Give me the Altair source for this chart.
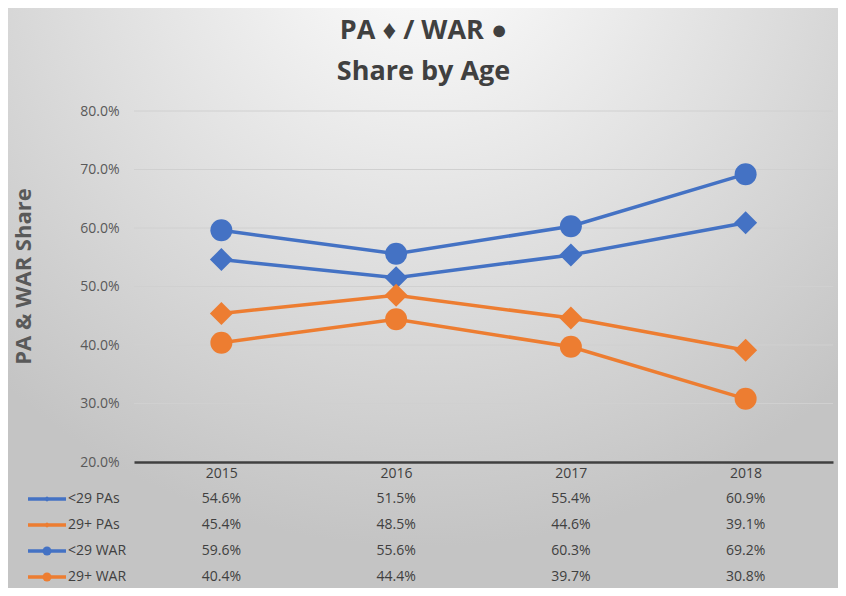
import altair as alt
import pandas as pd

# ---------------- data ----------------
years = ["2015", "2016", "2017", "2018"]
series_names = ["<29 PAs", "29+ PAs", "<29 WAR", "29+ WAR"]
series_group = ["<29", "29+", "<29", "29+"]
series_metric = ["PA", "PA", "WAR", "WAR"]
pa_under29 = [0.546, 0.515, 0.554, 0.609]
pa_29plus = [0.454, 0.485, 0.446, 0.391]
war_under29 = [0.596, 0.556, 0.603, 0.692]
war_29plus = [0.404, 0.444, 0.397, 0.308]
y_ticks = [0.2, 0.3, 0.4, 0.5, 0.6, 0.7, 0.8]
title_lines = ["PA \u2666 / WAR \u25cf", "Share by Age"]
y_title = "PA & WAR Share"

rows = []
for name, grp, met, vals in zip(series_names, series_group, series_metric,
                                [pa_under29, pa_29plus, war_under29, war_29plus]):
    for yr, v in zip(years, vals):
        rows.append(dict(Series=name, Group=grp, Metric=met, Year=yr, Value=v))
df = pd.DataFrame(rows)
keys = pd.DataFrame(dict(Series=series_names, Group=series_group, Metric=series_metric))
grid_df = pd.DataFrame({"Value": y_ticks[1:]})

# ---------------- style ----------------
FONT = "Open Sans"
W, H = 699, 351
PAD = {"left": 126, "top": 103, "right": 5, "bottom": 126}
BLUE, ORANGE = "#4472C4", "#ED7D31"

color_enc = alt.Color("Group:N", scale=alt.Scale(domain=["<29", "29+"], range=[BLUE, ORANGE]), legend=None)

x_enc = alt.X(
    "Year:O",
    scale=alt.Scale(type="point", padding=0.5, domain=years),
    axis=alt.Axis(title=None, labelAngle=0, ticks=False, grid=False,
                  domainColor="#404040", domainWidth=2.5,
                  labelColor="#404040", labelFontSize=14, labelFont=FONT,
                  labelPadding=4, zindex=1),
)
y_axis = alt.Axis(
    title=y_title, values=y_ticks, format=".1%", grid=False, domain=False, ticks=False,
    labelColor="#595959", labelFontSize=14, labelFont=FONT, labelPadding=15,
    titleFontSize=22, titleFontWeight="bold", titleColor="#595959", titleFont=FONT,
    titleX=-99, titleY=165, zindex=1,
)
y_enc = alt.Y("Value:Q", scale=alt.Scale(domain=[0.2, 0.8], nice=False, zero=False), axis=y_axis)

bg_fill = alt.RadialGradient(
    gradient="radial", x1=0.5, y1=0.05, r1=0, x2=0.5, y2=0.05, r2=0.75,
    stops=[alt.GradientStop(offset=0, color="#ffffff"),
           alt.GradientStop(offset=1, color="#c4c4c4")],
)
bg = alt.Chart(pd.DataFrame({"a": [0]})).mark_rect(fill=bg_fill).encode(
    x=alt.value(-PAD["left"]), x2=alt.value(W + PAD["right"]),
    y=alt.value(-PAD["top"]), y2=alt.value(H + PAD["bottom"]),
)

grid = alt.Chart(grid_df).mark_rule(color="#d0d0d0", strokeWidth=1).encode(y=y_enc)

lines = alt.Chart(df).mark_line(strokeWidth=3.5).encode(
    x=x_enc, y=y_enc, color=color_enc, detail="Series:N"
)
points = alt.Chart(df).mark_point(filled=True, opacity=1).encode(
    x=x_enc, y=y_enc, color=color_enc,
    shape=alt.Shape("Metric:N", scale=alt.Scale(domain=["PA", "WAR"], range=["diamond", "circle"]), legend=None),
    size=alt.Size("Metric:O", scale=alt.Scale(domain=["PA", "WAR"], range=[530, 484]), legend=None),
)

main = alt.layer(bg, grid, lines, points)

# ---------------- data table ----------------
row_y = alt.Y("Series:N", scale=alt.Scale(type="point", domain=series_names, range=[388, 466], padding=0), axis=None)

table_vals = alt.Chart(df).mark_text(fontSize=14, font=FONT, color="#404040").encode(
    x=x_enc, y=row_y, text=alt.Text("Value:Q", format=".1%")
)
key_lines = alt.Chart(keys).mark_rule(strokeWidth=3.5).encode(
    x=alt.value(-106), x2=alt.value(-68), y=row_y, color=color_enc
)
key_pa = alt.Chart(keys).transform_filter(alt.datum.Metric == "PA").mark_point(
    filled=True, opacity=1, shape="diamond", size=30
).encode(x=alt.value(-87), y=row_y, color=color_enc)
key_war = alt.Chart(keys).transform_filter(alt.datum.Metric == "WAR").mark_point(
    filled=True, opacity=1, shape="circle", size=80
).encode(x=alt.value(-87), y=row_y, color=color_enc)
key_labels = alt.Chart(keys).mark_text(align="left", fontSize=14, font=FONT, color="#404040").encode(
    x=alt.value(-66), y=row_y, text="Series:N"
)
table = alt.layer(table_vals, key_lines, key_pa, key_war, key_labels)

chart = alt.layer(main, table).resolve_scale(y="independent").properties(
    width=W, height=H,
    padding=PAD,
    autosize=alt.AutoSizeParams(type="none"),
    title=alt.TitleParams(
        text=title_lines, font=FONT, fontSize=27, fontWeight="bold", color="#404040",
        lineHeight=41, anchor="middle", frame="group", dx=-60, offset=-99,
        baseline="alphabetic",
    ),
).configure_view(stroke=None)

chart.save("out.html", embed_options={"renderer": "svg", "actions": False})
